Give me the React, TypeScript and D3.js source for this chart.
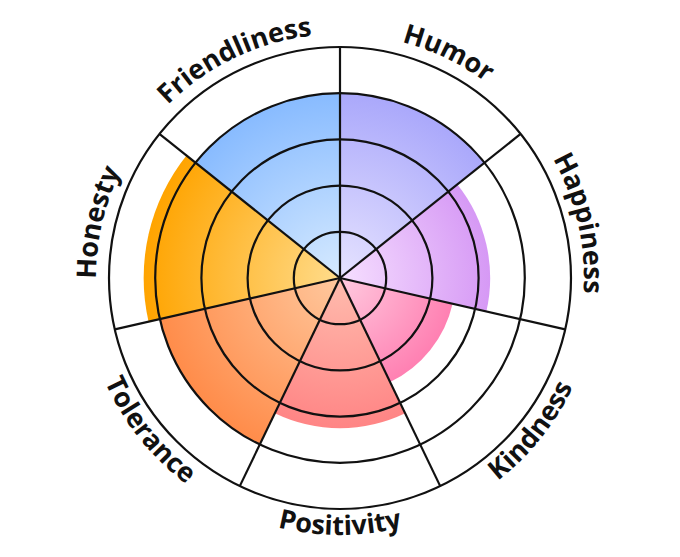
import React from "react";
import * as d3 from "d3";

const categories = ["Humor", "Happiness", "Kindness", "Positivity", "Tolerance", "Honesty", "Friendliness"];
const values = [80, 65, 50, 65, 80, 85, 80];
const outerColors = ["#aaa8fb", "#d699f5", "#ff80b2", "#ff8585", "#ff8c4a", "#ffa400", "#88bbff"];
const innerColors = ["#e6e3ff", "#f6dfff", "#ffcadf", "#ffbcae", "#ffc89e", "#ffdc8c", "#d6eaff"];
const ringTicks = [20, 40, 60, 80, 100];

const W = 680;
const H = 557;
const cx = 340;
const cy = 278;
const R = 231;

export default function App() {
  const n = categories.length;
  const angle = d3.scaleLinear().domain([0, n]).range([0, 2 * Math.PI]);
  const rScale = d3.scaleLinear().domain([0, 100]).range([0, R]);
  const arc = d3.arc<any>();
  const pt = (r: number, a: number) => [r * Math.sin(a), -r * Math.cos(a)];

  const labelPath = (i: number) => {
    const a0 = angle(i);
    const a1 = angle(i + 1);
    const mid = (a0 + a1) / 2;
    const top = Math.cos(mid) > 0;
    if (top) {
      const r = 244;
      const [x0, y0] = pt(r, a0);
      const [x1, y1] = pt(r, a1);
      return `M${x0},${y0} A${r},${r} 0 0 1 ${x1},${y1}`;
    } else {
      const r = 257;
      const [x0, y0] = pt(r, a1);
      const [x1, y1] = pt(r, a0);
      return `M${x0},${y0} A${r},${r} 0 0 0 ${x1},${y1}`;
    }
  };

  return (
    <svg width={W} height={H} style={{ position: "absolute", left: 0, top: 0, background: "#fff" }}>
      <defs>
        {categories.map((c, i) => (
          <radialGradient
            key={c}
            id={`g${i}`}
            gradientUnits="userSpaceOnUse"
            cx={0}
            cy={0}
            r={rScale(values[i])}
          >
            <stop offset="0%" stopColor={innerColors[i]} />
            <stop offset="100%" stopColor={outerColors[i]} />
          </radialGradient>
        ))}
        {categories.map((c, i) => (
          <path key={c} id={`lp${i}`} d={labelPath(i)} />
        ))}
      </defs>
      <g transform={`translate(${cx},${cy})`}>
        {categories.map((c, i) => (
          <path
            key={c}
            d={arc({ innerRadius: 0, outerRadius: rScale(values[i]), startAngle: angle(i), endAngle: angle(i + 1) }) || ""}
            fill={`url(#g${i})`}
          />
        ))}
        {ringTicks.map((t) => (
          <circle key={t} r={rScale(t)} fill="none" stroke="#111" strokeWidth={2.2} />
        ))}
        {categories.map((c, i) => {
          const [x, y] = pt(R, angle(i));
          return <line key={c} x1={0} y1={0} x2={x} y2={y} stroke="#111" strokeWidth={2.2} />;
        })}
        {categories.map((c, i) => (
          <text
            key={c}
            fontFamily="'Open Sans', sans-serif"
            fontWeight={700}
            fontSize={27}
            fill="#111"
          >
            <textPath href={`#lp${i}`} startOffset="50%" textAnchor="middle">
              {c}
            </textPath>
          </text>
        ))}
      </g>
    </svg>
  );
}
